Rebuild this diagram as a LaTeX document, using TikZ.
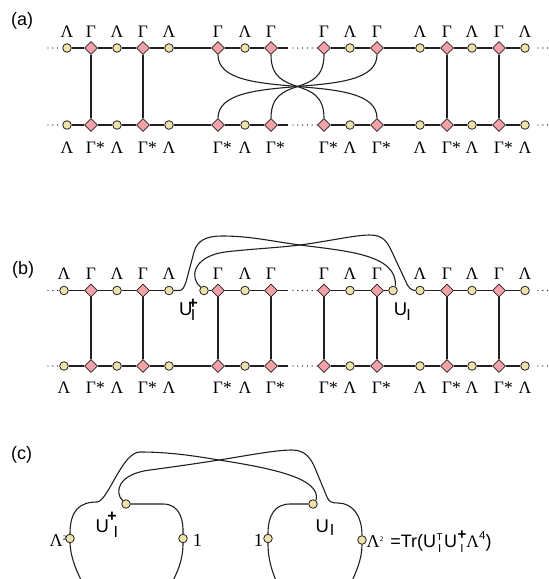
\documentclass[tikz,border=0pt]{standalone}
\usepackage{fontspec}
\usetikzlibrary{shapes.geometric}
\newfontfamily\sansf{Liberation Sans}
\newfontfamily\gk{Liberation Serif}
\newcommand{\fsz}[1]{\fontsize{#1}{#1}\selectfont}
\newsavebox\stkA \newsavebox\stkB \newlength\stkW
\newcommand{\stk}[4]{\sbox\stkA{#1}\sbox\stkB{#2}\setlength\stkW{\wd\stkA}\ifdim\wd\stkB>\stkW\setlength\stkW{\wd\stkB}\fi\makebox[0pt][l]{\raisebox{#3}{\makebox[\stkW][c]{\usebox\stkA}}}\raisebox{#4}{\makebox[\stkW][c]{\usebox\stkB}}}
\newcommand{\UIp}[4]{U\rlap{\kern#1\raisebox{#2}{\bfseries\fsz{16}+}}\kern#3\raisebox{#4}{\fsz{16}I}}
\newcommand{\UIs}[2]{U\kern#1\raisebox{#2}{\fsz{16}I}}
\definecolor{lam}{RGB}{238,226,172}
\definecolor{gam}{RGB}{244,162,170}
\definecolor{ink}{RGB}{35,31,32}
\tikzset{
 lamnode/.style={circle, draw=ink, fill=lam, line width=0.8pt, minimum size=8.6pt, inner sep=0pt},
 gamnode/.style={diamond, draw=ink, fill=gam, line width=0.8pt, minimum width=13pt, minimum height=13pt, inner sep=0pt},
 wire/.style={draw=ink, line width=1.1pt},
 dotwire/.style={draw=ink, line width=1.4pt, dash pattern=on 0pt off 4.8pt, line cap=round},
 glab/.style={anchor=base, inner sep=0pt, font=\gk\fsz{17.5}},
 plab/.style={anchor=base west, inner sep=0pt, font=\sansf\fsz{18}},
 ulab/.style={anchor=base west, inner sep=0pt, font=\sansf\fsz{18.5}},
}
\begin{document}
\begin{tikzpicture}[x=1pt,y=-1pt]
\useasboundingbox (0,0) rectangle (549,579);
\clip (0,0) rectangle (549,579);

% ---------------- panel (a)
\node[plab] (pa) at (11,25) {(a)};
\foreach \n/\x/\sty/\tl/\bl in {1/67/lamnode/Λ/Λ, 2/91/gamnode/Γ/Γ\rlap{*}, 3/117/lamnode/Λ/Λ, 4/143/gamnode/Γ/Γ\rlap{*}, 5/169/lamnode/Λ/Λ, 6/218/gamnode/Γ/Γ\rlap{*}, 7/245/lamnode/Λ/Λ, 8/271/gamnode/Γ/Γ\rlap{*}, 9/324/gamnode/Γ/Γ\rlap{*}, 10/350/lamnode/Λ/Λ, 11/377/gamnode/Γ/Γ\rlap{*}, 12/420/lamnode/Λ/Λ, 13/447/gamnode/Γ/Γ\rlap{*}, 14/472/lamnode/Λ/Λ, 15/499/gamnode/Γ/Γ\rlap{*}, 16/525/lamnode/Λ/Λ}{
  \node[\sty] (ta\n) at (\x,48) {};
  \node[\sty] (ba\n) at (\x,125) {};
  \node[glab] (tla\n) at (\x,37) {\tl};
  \node[glab] (bla\n) at (\x,153) {\bl};
}
\coordinate (aLt) at (48,48); \coordinate (aLb) at (48,125);
\coordinate (aMt) at (288,48); \coordinate (aMb) at (288,125);
\coordinate (aDt) at (293,48); \coordinate (aDb) at (293,125);
\coordinate (aR0t) at (538,48); \coordinate (aR0b) at (538,125);
\coordinate (aRt) at (549,48); \coordinate (aRb) at (549,125);
\draw[dotwire] (aLt) -- (ta1); \draw[dotwire] (aLb) -- (ba1);
\draw[wire] (ta1)--(ta2)--(ta3)--(ta4)--(ta5)--(ta6)--(ta7)--(ta8) -- (aMt);
\draw[wire] (ba1)--(ba2)--(ba3)--(ba4)--(ba5)--(ba6)--(ba7)--(ba8) -- (aMb);
\draw[dotwire] (aDt) -- (ta9); \draw[dotwire] (aDb) -- (ba9);
\draw[wire] (ta9)--(ta10)--(ta11)--(ta12)--(ta13)--(ta14)--(ta15)--(ta16);
\draw[wire] (ba9)--(ba10)--(ba11)--(ba12)--(ba13)--(ba14)--(ba15)--(ba16);
\draw[dotwire] (aR0t) -- (aRt); \draw[dotwire] (aR0b) -- (aRb);
\foreach \n in {2,4,13,15}{\draw[wire] (ta\n) -- (ba\n);}
\draw[wire] (ta6.south) .. controls +(0,50) and +(0,-50) .. (ba11.north);
\draw[wire] (ta11.south) .. controls +(0,50) and +(0,-50) .. (ba6.north);
\draw[wire] (ta8.south) .. controls +(0,45) and +(0,-45) .. (ba9.north);
\draw[wire] (ta9.south) .. controls +(0,45) and +(0,-45) .. (ba8.north);

% ---------------- panel (b)
\node[plab] (pb) at (12,274) {(b)};
\foreach \n/\x/\sty/\tl/\bl in {1/64/lamnode/Λ/Λ, 2/91/gamnode/Γ/Γ\rlap{*}, 3/117/lamnode/Λ/Λ, 4/143/gamnode/Γ/Γ\rlap{*}, 5/169/lamnode/Λ/Λ, 6/218/gamnode/Γ/Γ\rlap{*}, 7/245/lamnode/Λ/Λ, 8/271/gamnode/Γ/Γ\rlap{*}, 9/324/gamnode/Γ/Γ\rlap{*}, 10/350/lamnode/Λ/Λ, 11/377/gamnode/Γ/Γ\rlap{*}, 12/420/lamnode/Λ/Λ, 13/447/gamnode/Γ/Γ\rlap{*}, 14/472/lamnode/Λ/Λ, 15/499/gamnode/Γ/Γ\rlap{*}, 16/525/lamnode/Λ/Λ}{
  \node[\sty] (tb\n) at (\x,290.5) {};
  \node[\sty] (bb\n) at (\x,366) {};
  \node[glab] (tlb\n) at (\x,279.5) {\tl};
  \node[glab] (blb\n) at (\x,393.5) {\bl};
}
\node[lamnode] (tbP) at (204,290.5) {};
\node[lamnode] (tbU) at (393,290.5) {};
\coordinate (bLt) at (48,290.5); \coordinate (bLb) at (48,366);
\coordinate (bMt) at (288,290.5); \coordinate (bMb) at (288,366);
\coordinate (bDt) at (293,290.5); \coordinate (bDb) at (293,366);
\coordinate (bR0t) at (538,290.5); \coordinate (bR0b) at (538,366);
\coordinate (bRt) at (549,290.5); \coordinate (bRb) at (549,366);
\draw[dotwire] (bLt) -- (tb1); \draw[dotwire] (bLb) -- (bb1);
\draw[wire] (tb1)--(tb2)--(tb3)--(tb4)--(tb5);
\draw[wire] (tbP)--(tb6)--(tb7)--(tb8) -- (bMt);
\draw[wire] (bb1)--(bb2)--(bb3)--(bb4)--(bb5)--(bb6)--(bb7)--(bb8) -- (bMb);
\draw[dotwire] (bDt) -- (tb9); \draw[dotwire] (bDb) -- (bb9);
\draw[wire] (tb9)--(tb10)--(tb11)--(tbU);
\draw[wire] (tb12)--(tb13)--(tb14)--(tb15)--(tb16);
\draw[wire] (bb9)--(bb10)--(bb11)--(bb12)--(bb13)--(bb14)--(bb15)--(bb16);
\draw[dotwire] (bR0t) -- (bRt); \draw[dotwire] (bR0b) -- (bRb);
\foreach \n in {2,4,6,8,9,11,13,15}{\draw[wire] (tb\n) -- (bb\n);}
\draw[wire] (tb5) -- (179,290.5) .. controls (183,290.5) and (184,287) .. (186,282) -- (194,252)
  .. controls (197.2,240) and (207,236) .. (222,236)
  .. controls (250,236) and (270,241) .. (300,245)
  .. controls (345,251) and (398,254) .. (tbU.60);
\draw[wire] (tbP.135) .. controls (190,279) and (191,257) .. (225,252)
  .. controls (250,249) and (275,248) .. (300,245)
  .. controls (330,241) and (355,235) .. (370,235)
  .. controls (383,235) and (387.5,242) .. (392,252) -- (406,282)
  .. controls (408,287) and (411,290.5) .. (tb12.west);
\node[ulab] (ubp) at (179,315) {\UIp{-4.1pt}{6.3pt}{-1.6pt}{-5pt}};
\node[ulab] (ubs) at (393.6,315) {\UIs{-0.7pt}{-5pt}};

% ---------------- panel (c)
\node[plab] (pc) at (11,459) {(c)};
\node[lamnode] (cL) at (70,538.5) {};
\node[lamnode] (cA) at (183,538.5) {};
\node[lamnode] (cP) at (126,504) {};
\node[lamnode] (cB) at (268,538.5) {};
\node[lamnode] (cU) at (313,504) {};
\node[lamnode] (cR) at (362,540) {};
\coordinate (cLb) at (86,590); \coordinate (cAb) at (168,590);
\coordinate (cBb) at (280,590); \coordinate (cRb) at (348,590);
\draw[wire] (cL.north) .. controls (70,510) and (80,502) .. (97,502)
  .. controls (108,501.5) and (122,452) .. (140,452)
  .. controls (170,452) and (195,456) .. (219,460)
  .. controls (270,468) and (322,478) .. (cU.50);
\draw[wire] (cP.135) .. controls (114,492) and (118,474) .. (150,470)
  .. controls (180,466) and (200,463) .. (219,460)
  .. controls (245,456) and (275,450) .. (292,450)
  .. controls (305,450) and (310.8,458) .. (315,468) -- (327,497)
  .. controls (329,502) and (332,503) .. (338,503)
  .. controls (352,503) and (362,515) .. (cR.north);
\draw[wire] (cP) -- (163,504) .. controls (180,504) and (183.5,520) .. (cA.north);
\draw[wire] (cB.north) .. controls (268,515) and (275,504) .. (290,504) -- (cU);
\draw[wire] (cL.south) .. controls (71,560) and (77,572) .. (cLb);
\draw[wire] (cA.south) .. controls (183,560) and (178,572) .. (cAb);
\draw[wire] (cB.south) .. controls (268,560) and (272,572) .. (cBb);
\draw[wire] (cR.south) .. controls (362,560) and (356,572) .. (cRb);
\node[anchor=base east, inner sep=0pt] (lL) at (66.5,546.5) {{\gk\fsz{18}Λ}\raisebox{6.5pt}{\gk\fsz{7}2}};
\node[anchor=base, inner sep=0pt, font=\gk\fsz{18.5}] (lA) at (197.5,546) {1};
\node[anchor=base, inner sep=0pt, font=\gk\fsz{18.5}] (lB) at (258.5,546) {1};
\node[ulab] (ucp) at (95.5,532) {\UIp{-1.6pt}{10.3pt}{4.6pt}{-5pt}};
\node[ulab] (ucs) at (315.3,532) {\UIs{1.1pt}{-3pt}};
\node[anchor=base west, inner sep=0pt, font=\sansf\fsz{18}] (form) at (366.5,547.5) {{\gk\fsz{18}Λ}\raisebox{6.5pt}{\gk\fsz{7}2}\hspace{7pt}=Tr(U\kern0.5pt\stk{\fsz{10}T}{\fsz{11.5}I}{7.5pt}{-5pt}\kern1.5pt U\kern0.5pt\stk{\bfseries\fsz{15}+}{\fsz{11.5}I}{8pt}{-5pt}{\gk\fsz{17.5}Λ}\raisebox{8pt}{\fsz{11.5}4})};
\end{tikzpicture}
\end{document}
